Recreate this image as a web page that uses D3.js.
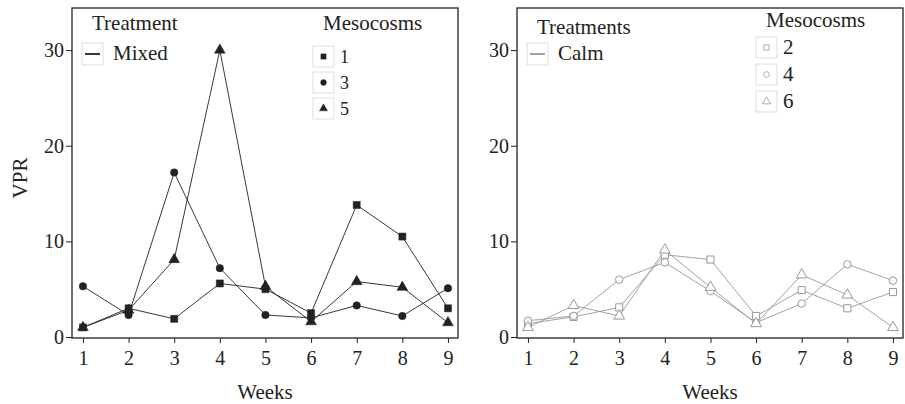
<!DOCTYPE html>
<html>
<head>
<meta charset="utf-8">
<script src="https://cdn.jsdelivr.net/npm/d3@7"></script>
</head>
<body style="margin:0; background:#fff">
<svg id="chart" width="905" height="404"></svg>
<script>
// weeks on the x axis
var weeks = [1, 2, 3, 4, 5, 6, 7, 8, 9];
var yTicks = [0, 10, 20, 30];

// Mixed treatment (mesocosms 1, 3, 5)
var meso1 = [1.0, 3.0, 1.9, 5.6, 5.0, 2.5, 13.8, 10.5, 3.0];
var meso3 = [5.3, 2.3, 17.2, 7.2, 2.3, 2.0, 3.3, 2.2, 5.1];
var meso5 = [1.0, 2.8, 8.1, 30.0, 5.3, 1.6, 5.8, 5.2, 1.5];

// Calm treatment (mesocosms 2, 4, 6)
var meso2 = [1.4, 2.1, 3.1, 8.6, 8.1, 2.2, 4.9, 3.0, 4.7];
var meso4 = [1.7, 2.2, 6.0, 7.8, 4.8, 1.5, 3.5, 7.6, 5.9];
var meso6 = [1.0, 3.3, 2.2, 9.1, 5.2, 1.4, 6.5, 4.4, 1.0];

var FONT = "Liberation Serif";
var svg = d3.select("#chart");

var label = function(g, x, y, size, txt) {
    return g.append("text").attr("x", x).attr("y", y)
      .attr("font-family", FONT).attr("font-size", size)
      .attr("fill", "#222").text(txt);
};

// one panel = frame, axes, lines, markers, legends
var drawPanel = function(opt) {
    var x = d3.scaleLinear().domain([0.76, 9.22]).range([opt.left, opt.right]);
    var y = d3.scaleLinear().domain([0, 34.4]).range([337, 8]);
    var g = svg.append("g");

    var yAxis = g.append("g")
      .attr("transform", "translate(" + opt.left + ",0)")
      .call(d3.axisLeft(y).tickValues(yTicks).tickSize(6).tickPadding(2));
    var xAxis = g.append("g")
      .attr("transform", "translate(0,338)")
      .call(d3.axisBottom(x).tickValues(weeks).tickSize(5).tickPadding(4));
    [yAxis, xAxis].forEach(function(a) {
        a.attr("font-family", FONT).attr("font-size", 20);
        a.select(".domain").remove();
        a.selectAll("line").attr("stroke", "#222");
        a.selectAll("text").attr("fill", "#222");
    });
    xAxis.selectAll("text").attr("dy", "0.9em");

    g.append("rect")
      .attr("x", opt.left).attr("y", 8)
      .attr("width", opt.right - opt.left).attr("height", 330)
      .attr("fill", "none").attr("stroke", "#222").attr("stroke-width", 1.3);

    var line = d3.line().x(function(d, i) { return x(weeks[i]); }).y(function(d) { return y(d); });

    opt.series.forEach(function(s) {
        g.append("path").datum(s.values)
          .attr("d", line)
          .attr("fill", "none")
          .attr("stroke", opt.color)
          .attr("stroke-width", 0.9);
    });
    opt.series.forEach(function(s) {
        g.selectAll(null).data(s.values).enter().append("path")
          .attr("transform", function(d, i) { return "translate(" + x(weeks[i]) + "," + y(d) + ")"; })
          .attr("d", d3.symbol().type(s.shape).size(s.shape === d3.symbolCircle ? 44 : 50))
          .attr("fill", opt.hollow ? "#fff" : opt.color)
          .attr("stroke", opt.color)
          .attr("stroke-width", opt.hollow ? 1 : 0.5);
    });

    // treatment legend
    var tl = opt.treatLeg;
    label(g, tl.x + 10, tl.titleY, 21, tl.title);
    g.append("rect").attr("x", tl.x).attr("y", tl.boxY).attr("width", 21).attr("height", 22)
      .attr("fill", "#fff").attr("stroke", "#ddd");
    g.append("line").attr("x1", tl.x + 3).attr("x2", tl.x + 18)
      .attr("y1", tl.boxY + 11).attr("y2", tl.boxY + 11)
      .attr("stroke", opt.color).attr("stroke-width", 1.8);
    label(g, tl.x + 31, tl.boxY + 17, 21, tl.label);

    // mesocosm legend
    var ml = opt.mesoLeg;
    label(g, ml.x + 10, ml.titleY, 21, "Mesocosms");
    opt.series.forEach(function(s, i) {
        var by = ml.boxY + i * ml.step;
        g.append("rect").attr("x", ml.x).attr("y", by).attr("width", 21).attr("height", 21)
          .attr("fill", "#fff").attr("stroke", "#ddd");
        g.append("path")
          .attr("transform", "translate(" + (ml.x + 10.5) + "," + (by + 10.5) + ")")
          .attr("d", d3.symbol().type(s.shape).size(s.shape === d3.symbolCircle ? 26 : 28))
          .attr("fill", opt.hollow ? "#fff" : opt.color)
          .attr("stroke", opt.color)
          .attr("stroke-width", opt.hollow ? 0.8 : 0.4);
        label(g, ml.x + 27, by + 17, ml.fontSize, s.name);
    });

    label(g, (opt.left + opt.right) / 2, 399, 21, "Weeks").attr("text-anchor", "middle");
};

drawPanel({
    left: 72, right: 458, color: "#222", hollow: false,
    series: [
        { name: "1", values: meso1, shape: d3.symbolSquare },
        { name: "3", values: meso3, shape: d3.symbolCircle },
        { name: "5", values: meso5, shape: d3.symbolTriangle }
    ],
    treatLeg: { x: 82, title: "Treatment", titleY: 30, boxY: 43, label: "Mixed" },
    mesoLeg: { x: 313, titleY: 30, boxY: 46, step: 26, fontSize: 18 }
});

drawPanel({
    left: 517, right: 903, color: "#999", hollow: true,
    series: [
        { name: "2", values: meso2, shape: d3.symbolSquare },
        { name: "4", values: meso4, shape: d3.symbolCircle },
        { name: "6", values: meso6, shape: d3.symbolTriangle }
    ],
    treatLeg: { x: 527, title: "Treatments", titleY: 34, boxY: 43, label: "Calm" },
    mesoLeg: { x: 756, titleY: 27, boxY: 37, step: 27, fontSize: 21 }
});

label(svg, 0, 0, 21, "VPR")
  .attr("transform", "translate(27,178) rotate(-90)")
  .attr("text-anchor", "middle");
</script>
</body>
</html>
